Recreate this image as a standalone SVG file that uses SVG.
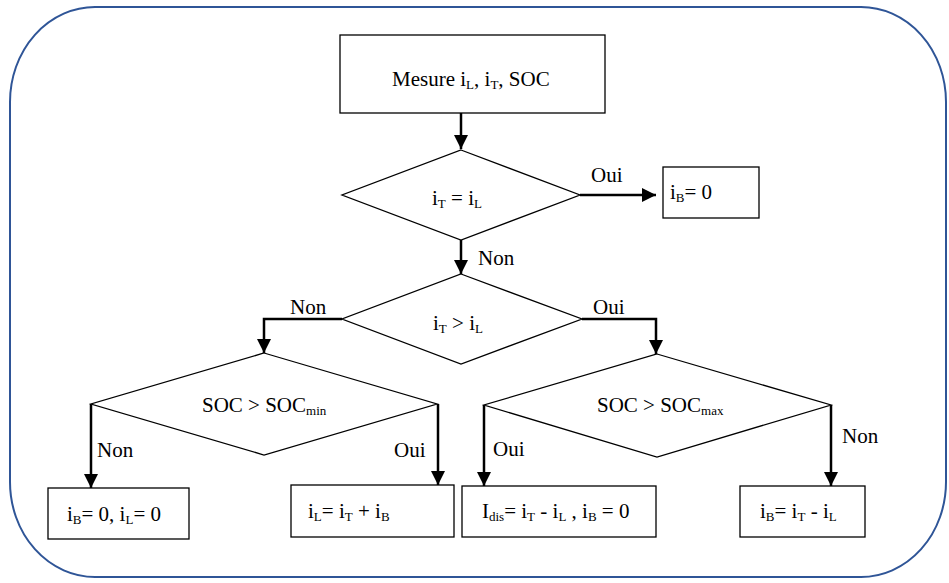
<svg xmlns="http://www.w3.org/2000/svg" width="949" height="583" viewBox="0 0 949 583">
<defs>
<marker id="ah" markerUnits="userSpaceOnUse" markerWidth="14" markerHeight="14" viewBox="0 0 14 14" refX="14" refY="7" orient="auto">
<path d="M0,0 L14,7 L0,14 Z" fill="#000"/>
</marker>
</defs>
<style>
.frame{fill:#fff;stroke:#2f5597;stroke-width:2}
.box{fill:#fff;stroke:#000;stroke-width:1.3}
.dia{fill:#fff;stroke:#000;stroke-width:1.3}
.c{fill:none;stroke:#000;stroke-width:2.5}
.a{marker-end:url(#ah)}
text{font-family:"Liberation Serif","Times New Roman",serif;font-size:21px;fill:#000}
.s{font-size:13px}
</style>
<rect x="0" y="0" width="949" height="583" fill="#fff"/>
<rect class="frame" x="10" y="7" width="936" height="570" rx="85" ry="95"/>

<g id="connectors">
<line class="c a" x1="461" y1="113" x2="461" y2="149"/>
<line class="c a" x1="580" y1="195" x2="656" y2="195"/>
<line class="c a" x1="461" y1="240" x2="461" y2="274"/>
<polyline class="c a" points="342,319 264,319 264,353"/>
<polyline class="c a" points="582,319 656,319 656,354"/>
<line class="c a" x1="91" y1="404" x2="91" y2="488"/>
<line class="c a" x1="438" y1="404" x2="438" y2="485"/>
<line class="c a" x1="484" y1="405" x2="484" y2="486"/>
<line class="c a" x1="831" y1="405" x2="831" y2="486"/>
<text x="591" y="182">Oui</text>
<text x="478" y="265">Non</text>
<text x="290" y="314">Non</text>
<text x="593" y="314">Oui</text>
<text x="97" y="457">Non</text>
<text x="394" y="457">Oui</text>
<text x="493" y="456">Oui</text>
<text x="842" y="443">Non</text>
</g>

<g id="start">
<rect class="box" x="340" y="35" width="265" height="78"/>
<text x="392" y="86">Mesure i<tspan class="s" dy="3">L</tspan><tspan dy="-3">, i</tspan><tspan class="s" dy="3">T</tspan><tspan dy="-3">, SOC</tspan></text>
</g>

<g id="dec1">
<polygon class="dia" points="461,150 580,195 461,240 342,195"/>
<text x="432" y="205">i<tspan class="s" dy="3">T</tspan><tspan dy="-3"> = i</tspan><tspan class="s" dy="3">L</tspan></text>
</g>

<g id="ib0">
<rect class="box" x="663" y="167" width="96" height="51"/>
<text x="670" y="199">i<tspan class="s" dy="3">B</tspan><tspan dy="-3">= 0</tspan></text>
</g>

<g id="dec2">
<polygon class="dia" points="461,274 582,319 461,364 342,319"/>
<text x="433" y="330">i<tspan class="s" dy="3">T</tspan><tspan dy="-3"> &gt; i</tspan><tspan class="s" dy="3">L</tspan></text>
</g>

<g id="dec3">
<polygon class="dia" points="264,353 437,404 264,455 91,404"/>
<text x="202" y="412">SOC &gt; SOC<tspan class="s" dy="3">min</tspan></text>
</g>

<g id="dec4">
<polygon class="dia" points="657,354 831,405 657,457 484,405"/>
<text x="597" y="412">SOC &gt; SOC<tspan class="s" dy="3">max</tspan></text>
</g>

<g id="box1">
<rect class="box" x="48" y="488" width="141" height="51"/>
<text x="67" y="521">i<tspan class="s" dy="3">B</tspan><tspan dy="-3">= 0,  i</tspan><tspan class="s" dy="3">L</tspan><tspan dy="-3">= 0</tspan></text>
</g>

<g id="box2">
<rect class="box" x="291" y="485" width="163" height="52"/>
<text x="308" y="518">i<tspan class="s" dy="3">L</tspan><tspan dy="-3">= i</tspan><tspan class="s" dy="3">T</tspan><tspan dy="-3"> + i</tspan><tspan class="s" dy="3">B</tspan></text>
</g>

<g id="box3">
<rect class="box" x="462" y="486" width="194" height="51"/>
<text x="482" y="518">I<tspan class="s" dy="3">dis</tspan><tspan dy="-3">= i</tspan><tspan class="s" dy="3">T</tspan><tspan dy="-3"> - i</tspan><tspan class="s" dy="3">L</tspan><tspan dy="-3"> , i</tspan><tspan class="s" dy="3">B</tspan><tspan dy="-3"> = 0</tspan></text>
</g>

<g id="box4">
<rect class="box" x="740" y="486" width="125" height="51"/>
<text x="760" y="518">i<tspan class="s" dy="3">B</tspan><tspan dy="-3">= i</tspan><tspan class="s" dy="3">T</tspan><tspan dy="-3"> - i</tspan><tspan class="s" dy="3">L</tspan></text>
</g>
</svg>
